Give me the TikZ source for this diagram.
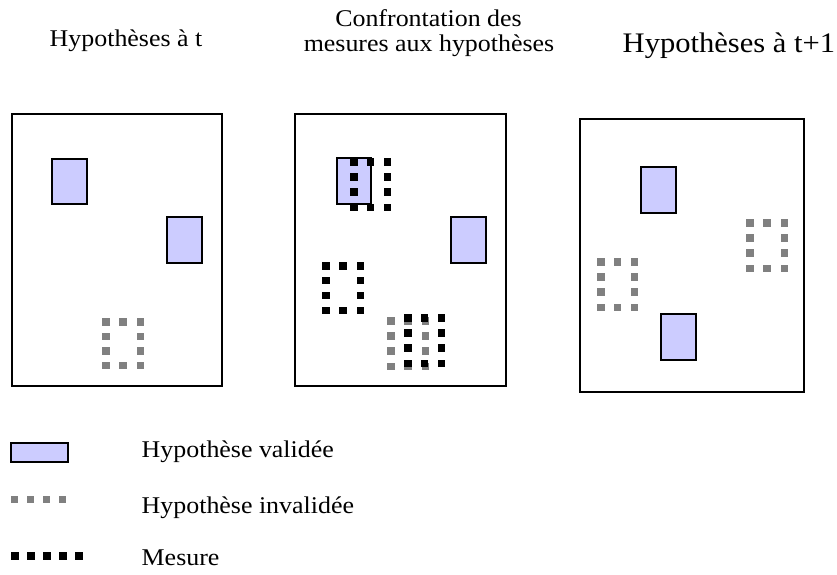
\documentclass[tikz,border=0pt]{standalone}
\usepackage{fontspec}
\setmainfont{Liberation Serif}[FakeStretch=1.08]
\definecolor{valfill}{RGB}{204,204,255}
\definecolor{invgray}{RGB}{128,128,128}
\tikzset{
  frame/.style={draw=black, line width=2pt},
  valid/.style={draw=black, fill=valfill, line width=2.2pt},
  lbl/.style={inner sep=0pt, anchor=base west, font=\fontsize{24}{29}\selectfont},
  ttl/.style={inner sep=0pt, anchor=base, font=\fontsize{24}{29}\selectfont},
}
\newcommand{\dotrect}[5]{%
  \foreach \i/\j in {0/0,1/0,2/0,0/1,2/1,0/2,2/2,0/3,1/3,2/3}{
    \fill[#5] ({#1+\i*(#3-7.5)/2},{#2+\j*(#4-7.5)/3}) rectangle ++(7.5,7.5);
  }}
\begin{document}
\begin{tikzpicture}[x=1pt,y=-1pt]
\useasboundingbox (0,0) rectangle (837,574);
% titles
\node[lbl] (t1) at (49.5,46) {Hypothèses à t};
\node[ttl] (t2a) at (428.5,26) {Confrontation des};
\node[ttl] (t2b) at (429,51) {mesures aux hypothèses};
\node[lbl, font=\fontsize{28.3}{34}\selectfont] (t3) at (622.5,52) {Hypothèses à t+1};
% frames
\draw[frame] (11.5,114) rectangle (221.7,385.7);
\draw[frame] (295,114) rectangle (505.5,386);
\draw[frame] (580,119) rectangle (803.5,391.5);
% box 1
\draw[valid] (52,159) rectangle (87,204);
\draw[valid] (167,217) rectangle (202,263);
\dotrect{102}{318}{42}{51}{invgray}
% box 2
\draw[valid] (337,158) rectangle (371,204);
\draw[valid] (451,217) rectangle (486,263);
\dotrect{387}{317}{42}{53}{invgray}
\dotrect{350}{158}{41}{53}{black}
\dotrect{322}{262}{42}{52}{black}
\dotrect{404}{314}{41}{53}{black}
% box 3
\draw[valid] (641,167) rectangle (676,213);
\draw[valid] (661,314) rectangle (696,360);
\dotrect{746}{219}{42}{53}{invgray}
\dotrect{597}{258}{41}{53}{invgray}
% legend
\draw[valid] (11,443) rectangle (68,462);
\foreach \k in {0,...,3}{\fill[invgray] ({11+16*\k},496) rectangle ++(6.7,6.7);}
\foreach \k in {0,...,4}{\fill[black] ({11+16*\k},552) rectangle ++(7.5,7.5);}
\node[lbl] (l1) at (141.5,457) {Hypothèse validée};
\node[lbl] (l2) at (141.5,513) {Hypothèse invalidée};
\node[lbl] (l3) at (141.5,565) {Mesure};
\end{tikzpicture}
\end{document}
